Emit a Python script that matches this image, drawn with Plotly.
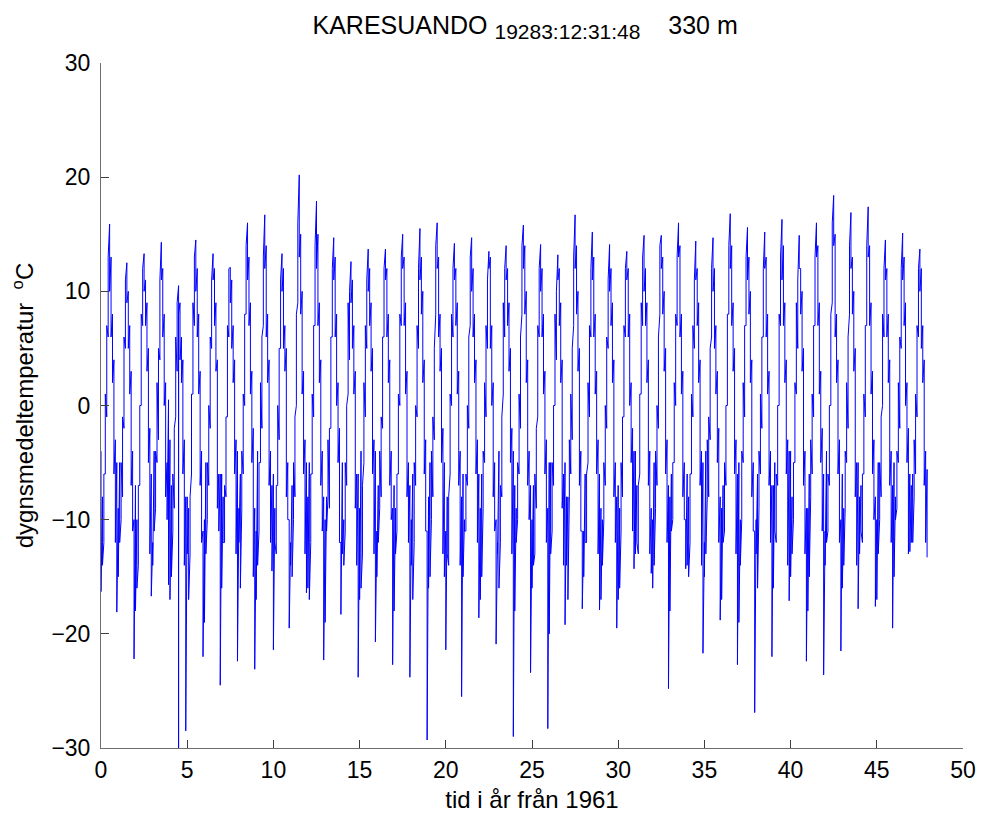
import plotly.graph_objects as go

# ---------------- data ----------------
# Daily values are plotted against "year + month/12", so every month is a
# vertical run of values. Each month below is given as (first, last) value
# of that run, one pair per year (48 years from 1961).
years = list(range(48))
month_index = list(range(12))

jan = list(zip([-4, -9, -7, -12, -3, -8, -10, -6, -9, -11,
                -6, -12, -8, -10, -5, -9, -11, -7, -10, -8,
                -11, -6, -9, -12, -7, -10, -5, -8, -11, -9,
                -7, -4, -10, -8, -6, -12, -9, -5, -10, -7,
                -4, -9, -11, -6, -8, -10, -5, -7],
               [-16.3, -15, -18, -14, -17, -13, -19, -16, -12, -17,
                -21.4, -14, -16, -19, -13, -17, -15, -18, -14, -16,
                -21.4, -15, -17, -13, -18, -16, -20, -14, -15, -17,
                -17, -13, -16, -18, -14, -15, -17, -19, -13, -16,
                -15, -18, -14, -16, -13, -17, -15, -12]))
feb = list(zip([-8, -5, -10, -4, -7, -9, -5, -8, -6, -4,
                -9, -7, -5, -8, -10, -4, -7, -9, -6, -5,
                -8, -10, -6, -4, -9, -7, -5, -8, -6, -10,
                -9, -7, -5, -6, -8, -4, -7, -10, -6, -5,
                -8, -6, -4, -9, -7, -5, -8, -6],
               [-14, -12, -16, -11, -15, -17, -13, -12, -16, -14,
                -12, -15, -17, -11, -14, -16, -12, -13, -17, -15,
                -13, -11, -15, -16, -12, -14, -13, -17, -12, -14,
                -16, -12, -14, -11, -15, -13, -12, -14, -16, -11,
                -13, -15, -12, -14, -11, -13, -10, -12]))
mar = list(zip([-12, -10, -14, -9, -11, -13, -10, -12, -9, -11,
                -13, -10, -12, -8, -11, -13, -9, -11, -12, -10,
                -14, -11, -9, -12, -10, -13, -11, -8, -12, -10,
                -11, -13, -9, -10, -12, -8, -11, -10, -9, -12,
                -10, -8, -11, -9, -12, -10, -9, -8],
               [-6, -5, -7, -4, -6, -8, -5, -7, -4, -5,
                -7, -5, -6, -3, -5, -7, -4, -6, -5, -4,
                -8, -6, -4, -7, -5, -6, -5, -3, -6, -5,
                -5, -7, -4, -5, -6, -3, -5, -4, -4, -6,
                -5, -3, -6, -4, -6, -5, -4, -3]))
apr = list(zip([-6, -8, -7, -5, -9, -6, -7, -8, -6, -5,
                -7, -8, -6, -9, -7, -5, -8, -6, -7, -8,
                -6, -7, -5, -8, -6, -9, -7, -6, -5, -7,
                -8, -6, -7, -5, -6, -8, -7, -5, -6, -7,
                -5, -6, -7, -5, -6, -8, -5, -6],
               [1, -1, 0, 2, -2, 1, 0, -1, 1, 2,
                0, -1, 1, -2, 0, 2, -1, 1, 0, -1,
                1, 0, 2, -1, 1, -2, 0, 1, 2, 0,
                -1, 1, 0, 2, 1, -1, 0, 2, 1, 0,
                2, 1, 0, 2, 1, -1, 2, 1]))
may = list(zip([-1, -2, 0, -3, -1, 1, -2, -1, 0, -2,
                -3, 0, -1, -2, 1, -1, -2, 0, -1, -3,
                0, -2, -1, 1, -2, -1, 0, -3, -1, -2,
                -1, 1, -2, 0, -1, -3, 0, -1, -2, 0,
                1, -1, 0, -2, -1, 0, -2, -1],
               [7, 6, 8, 5, 6, 9, 6, 7, 8, 6,
                5, 8, 7, 6, 9, 7, 6, 8, 7, 5,
                8, 6, 7, 9, 6, 7, 8, 5, 7, 6,
                7, 9, 6, 8, 7, 5, 8, 7, 6, 8,
                9, 7, 8, 6, 7, 8, 6, 7]))
jun = list(zip([6, 5, 7, 4, 3, 7, 5, 6, 8, 7,
                5, 9, 7, 6, 4, 5, 6, 7, 5, 8,
                6, 7, 5, 6, 8, 6, 4, 7, 6, 5,
                6, 7, 8, 7, 5, 6, 8, 7, 6, 7,
                5, 7, 9, 8, 7, 6, 5, 6],
               [13, 11, 12, 11, 9, 13, 11, 12, 14, 13,
                11, 16, 14, 12, 10, 11, 12, 13, 12, 14,
                12, 13, 11, 12, 14, 12, 10, 13, 12, 11,
                12, 13, 14, 13, 11, 12, 14, 13, 12, 13,
                11, 13, 16, 14, 14, 12, 12, 12]))
jul = list(zip([15.9, 12.5, 13.3, 14.3, 10.5, 14.5, 13.3, 12.1, 16.0, 16.7,
                13.3, 20.2, 17.9, 14.7, 12.6, 13.7, 13.7, 15.0, 15.5, 16.0,
                14.2, 14.7, 13.5, 14.0, 15.8, 14.1, 13.2, 16.7, 15.2, 14.1,
                13.5, 14.9, 14.9, 16.0, 14.4, 14.7, 16.8, 15.6, 15.2, 16.3,
                14.9, 16.0, 18.4, 16.9, 17.4, 14.5, 15.1, 13.7],
               [10, 9, 10, 11, 8, 10, 11, 9, 11, 12,
                10, 13, 12, 11, 9, 10, 11, 12, 11, 12,
                11, 10, 12, 11, 12, 10, 11, 12, 11, 10,
                11, 10, 12, 13, 11, 10, 12, 11, 12, 11,
                12, 13, 14, 12, 13, 11, 11, 10]))
aug = list(zip([13, 10, 11, 12, 9, 12, 12, 11, 13, 14,
                12, 15, 15, 13, 11, 12, 12, 13, 13, 13,
                12, 12, 13, 12, 14, 12, 12, 14, 13, 12,
                12, 12, 13, 14, 12, 12, 14, 13, 13, 14,
                12, 14, 15, 13, 14, 12, 13, 12],
               [6, 5, 7, 6, 4, 6, 7, 5, 7, 6,
                5, 8, 7, 6, 5, 7, 6, 7, 8, 6,
                7, 6, 5, 7, 8, 6, 7, 8, 6, 7,
                6, 7, 8, 6, 7, 5, 7, 8, 6, 7,
                8, 7, 6, 8, 7, 6, 7, 5]))
sep = list(zip([8, 7, 9, 8, 6, 8, 9, 7, 9, 8,
                7, 10, 9, 8, 7, 9, 8, 9, 10, 8,
                9, 8, 7, 9, 10, 8, 9, 10, 8, 9,
                8, 9, 10, 8, 9, 7, 9, 10, 8, 9,
                10, 9, 8, 10, 9, 8, 9, 7],
               [2, 1, 3, 0, 2, 1, 3, 2, 1, 2,
                3, 1, 2, 0, 1, 3, 2, 1, 2, 3,
                1, 2, 0, 3, 2, 1, 2, 3, 1, 2,
                0, 2, 3, 1, 2, 1, 3, 2, 1, 2,
                3, 1, 2, 3, 1, 2, 0, 2]))
octo = list(zip([4, 3, 5, 2, 4, 3, 4, 4, 3, 4,
                 5, 3, 4, 2, 3, 5, 4, 3, 4, 5,
                 3, 4, 2, 5, 4, 3, 4, 5, 3, 4,
                 2, 4, 5, 3, 4, 3, 5, 4, 3, 4,
                 5, 3, 4, 5, 3, 4, 2, 4],
                [-6, -7, -5, -8, -6, -7, -9, -6, -5, -7,
                 -8, -6, -7, -5, -9, -6, -7, -8, -6, -5,
                 -7, -6, -8, -5, -7, -6, -9, -7, -6, -8,
                 -5, -7, -6, -8, -7, -5, -6, -8, -7, -6,
                 -7, -5, -6, -8, -6, -7, -5, -7]))
nov = list(zip([-3, -4, -2, -5, -3, -4, -6, -3, -2, -4,
                -5, -3, -4, -2, -6, -3, -4, -5, -3, -2,
                -4, -3, -5, -2, -4, -3, -6, -4, -3, -5,
                -2, -4, -3, -5, -4, -2, -3, -5, -4, -3,
                -4, -2, -3, -5, -3, -4, -2, -4],
               [-12, -11, -13, -10, -14, -12, -11, -13, -15, -12,
                -10, -13, -11, -12, -14, -13, -10, -12, -11, -13,
                -14, -12, -11, -13, -10, -12, -14, -11, -13, -12,
                -11, -13, -12, -10, -14, -12, -13, -11, -12, -14,
                -13, -11, -12, -14, -10, -12, -13, -12]))
dec = list(zip([-5, -10, -6, 0.5, -8, -11, -6, -4, -9, -7,
                -10, -5, -8, -12, -6, -4, -9, -7, -11, -5,
                -8, -6, -10, -4, -7, -9, -5, -11, -6, -8,
                -4, -9, -7, -10, -5, -8, -6, -11, -7, -4,
                -9, -6, -10, -5, -8, -7, -6, -5.6],
               [-18.1, -22.2, -16.7, -15.7, -28.5, -22.0, -24.5, -22.4, -23.1, -14.5,
                -19.5, -16.4, -22.3, -18.3, -23.8, -20.7, -22.7, -23.8, -29.3, -15.0,
                -25.5, -18.6, -20.9, -29.0, -23.4, -28.3, -19.2, -17.8, -17.9, -19.5,
                -14.3, -14.7, -24.8, -14.3, -21.7, -18.8, -22.7, -26.9, -22.0, -17.1,
                -22.4, -23.6, -21.5, -17.8, -17.6, -19.5, -12.8, -13.3]))

# isolated bad value (runs off the bottom of the axes) in July of year 4
outlier_year = [4]
outlier_month = [6]
outlier_value = [-33.0]

months = [jan, feb, mar, apr, may, jun, jul, aug, sep, octo, nov, dec]

# ---------------- build the time series ----------------
t_vals, y_vals = [], []
for i in years:
    for m, month in zip(month_index, months):
        first, last = month[i]
        t = i + m / 12
        t_vals.append(t)
        y_vals.append(first)
        for oy, om, ov in zip(outlier_year, outlier_month, outlier_value):
            if oy == i and om == m:
                t_vals.append(t)
                y_vals.append(ov)
        t_vals.append(t)
        y_vals.append(last)

FONT = "Liberation Sans, Arial, Helvetica, sans-serif"

fig = go.Figure()
fig.add_trace(go.Scatter(
    x=t_vals, y=y_vals, mode="lines",
    line=dict(color="#0000FF", width=1),
    hoverinfo="skip", showlegend=False,
))

axis_common = dict(
    showgrid=False, zeroline=False, showline=True,
    linecolor="#6e6e6e", linewidth=1,
    ticks="inside", ticklen=8, tickcolor="#404040", tickwidth=1,
    tickfont=dict(family=FONT, size=23, color="black"),
    mirror=False,
)

# page body has an 8 px margin, so the figure is shifted by that amount
fig.update_layout(
    width=979, height=810,
    paper_bgcolor="white", plot_bgcolor="white",
    margin=dict(l=93, r=24, t=55, b=70, autoexpand=False),
    font=dict(family=FONT, color="black"),
    title=dict(
        text="KARESUANDO <sub><span style='font-size:21px'>19283:12:31:48</span></sub>\u00a0\u00a0\u00a0 330 m",
        font=dict(family=FONT, size=25, color="black"),
        x=0.492, xanchor="center", xref="paper",
        y=0.99, yanchor="top",
    ),
    xaxis=dict(
        range=[0, 50], tickmode="array", tickvals=[0, 5, 10, 15, 20, 25, 30, 35, 40, 45, 50],
        ticklabelstandoff=1,
        title=dict(text="tid i år från 1961", font=dict(family=FONT, size=24), standoff=9),
        **axis_common,
    ),
    yaxis=dict(
        range=[-30, 30], tickmode="array", tickvals=[-30, -20, -10, 0, 10, 20, 30],
        ticklabelstandoff=5,
        title=dict(text="dygnsmedeltemperatur  <sup>o</sup>C", font=dict(family=FONT, size=24), standoff=18),
        **axis_common,
    ),
)

fig.write_html("out.html")
